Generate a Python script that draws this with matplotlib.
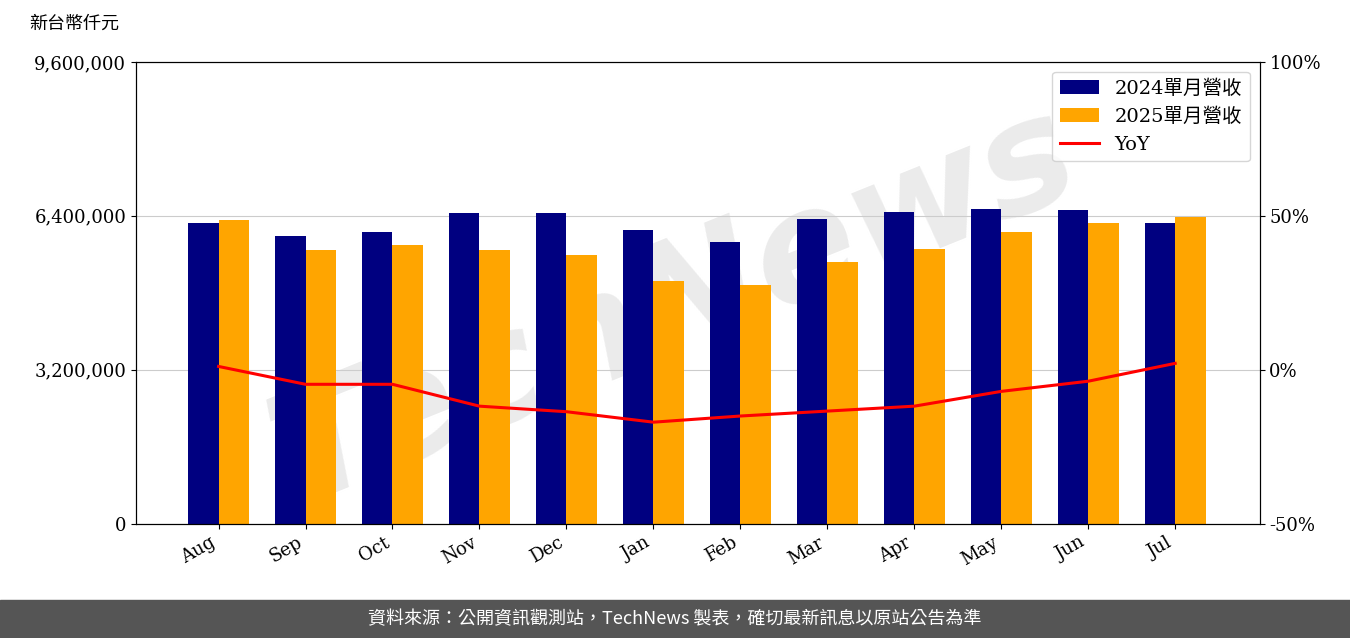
import matplotlib
matplotlib.use("Agg")
import matplotlib.pyplot as plt
import numpy as np
from matplotlib.ticker import FuncFormatter

months = ["Aug","Sep","Oct","Nov","Dec","Jan","Feb","Mar","Apr","May","Jun","Jul"]
rev_2024 = [6250000,5980000,6070000,6460000,6460000,6110000,5860000,6340000,6480000,6550000,6520000,6250000]
rev_2025 = [6320000,5690000,5800000,5690000,5590000,5050000,4970000,5440000,5710000,6070000,6250000,6380000]
yoy = [1.1,-4.7,-4.7,-11.8,-13.6,-17.0,-15.0,-13.4,-11.8,-7.0,-3.7,2.1]

serif = ["DejaVu Serif", "Noto Sans CJK TC"]
cjk = ["Noto Sans CJK TC", "DejaVu Sans"]

fig = plt.figure(figsize=(13.5, 6.38), dpi=100)
fig.text(0.5, 0.52, "TechNews", fontsize=110, color="#ebebeb",
         rotation=22, ha="center", va="center", fontweight="bold", style="italic", zorder=-5)
ax = fig.add_axes([0.1007, 0.179, 0.8323, 0.724])
ax.set_zorder(1)
ax.patch.set_alpha(0)
x = np.arange(len(months))
w = 0.35
ax.bar(x - w/2, rev_2024, w, color="#000080", label="2024單月營收", zorder=2)
ax.bar(x + w/2, rev_2025, w, color="#FFA500", label="2025單月營收", zorder=2)
ax.set_ylim(0, 9600000)
ax.set_yticks([0, 3200000, 6400000, 9600000])
ax.yaxis.set_major_formatter(FuncFormatter(lambda v, p: f"{int(v):,}"))
ax.grid(axis="y", color="#cccccc", zorder=0)
ax.set_xlim(-0.95, 11.97)
ax.set_xticks(x)
ax.set_xticklabels(months, rotation=30, ha="right", fontfamily=serif, fontsize=13)
for t in ax.get_yticklabels():
    t.set_fontfamily(serif); t.set_fontsize(13)

ax2 = ax.twinx()
ax2.set_zorder(2)
ax2.patch.set_alpha(0)
ax2.plot(x, yoy, color="red", lw=2.2, label="YoY", zorder=3)
ax2.set_ylim(-50, 100)
ax2.set_yticks([-50, 0, 50, 100])
ax2.yaxis.set_major_formatter(FuncFormatter(lambda v, p: f"{int(v)}%"))
for t in ax2.get_yticklabels():
    t.set_fontfamily(serif); t.set_fontsize(13)

h1, l1 = ax.get_legend_handles_labels()
h2, l2 = ax2.get_legend_handles_labels()
ax2.legend(h1 + h2, l1 + l2, loc="upper right", prop={"family": serif, "size": 14})

fig.text(0.022, 0.955, "新台幣仟元", fontfamily=cjk, fontsize=13)

fig.patches.append(plt.Rectangle((0, 0), 1, 0.06, transform=fig.transFigure, color="#555555", zorder=0))
fig.text(0.5, 0.03, "資料來源：公開資訊觀測站，TechNews 製表，確切最新訊息以原站公告為準",
         ha="center", va="center", color="white", fontfamily=cjk, fontsize=13)
fig.savefig("out.png", dpi=100)
